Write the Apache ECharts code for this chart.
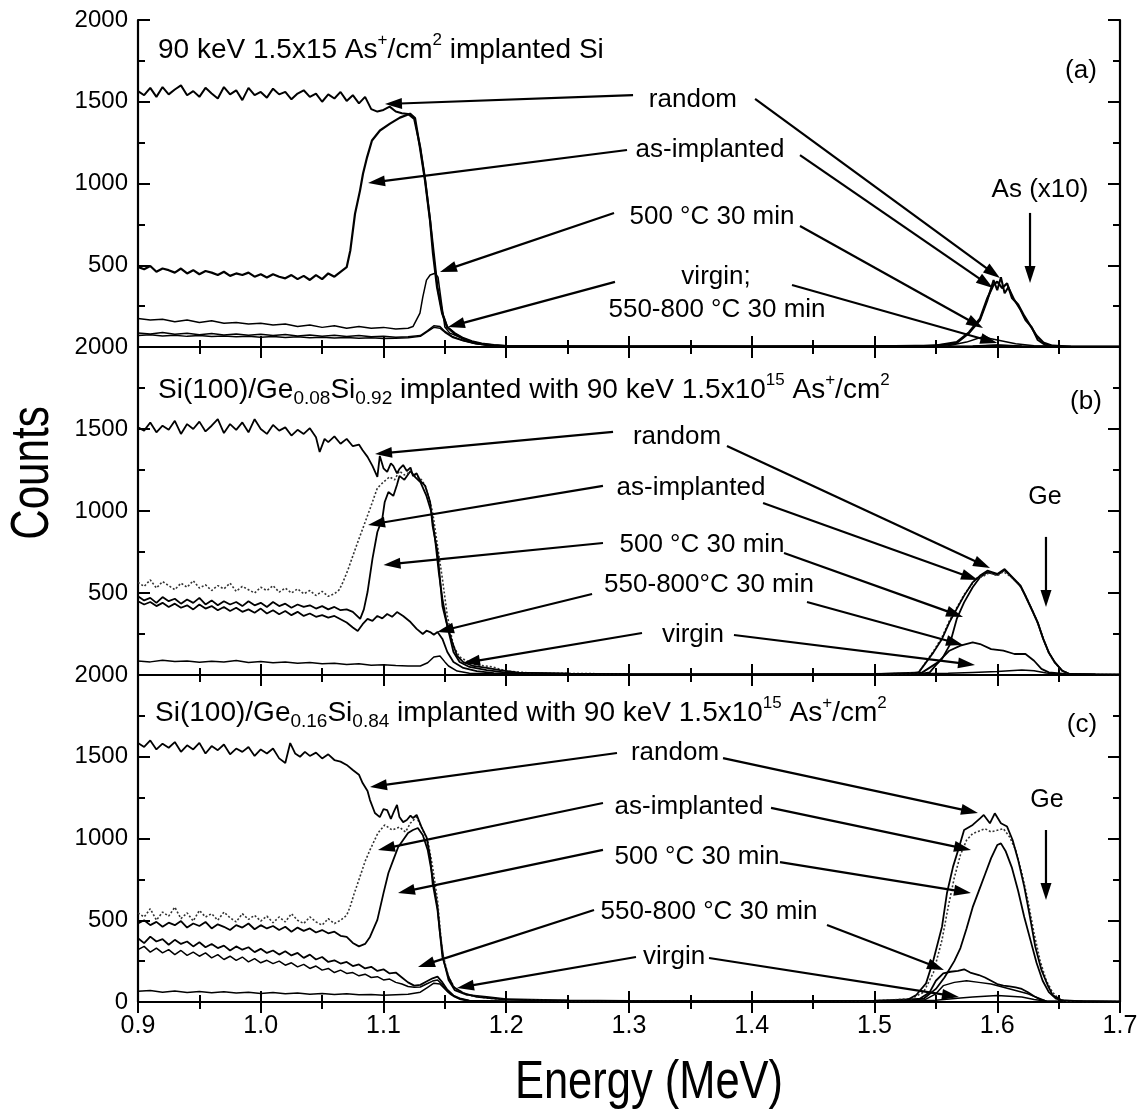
<!DOCTYPE html>
<html>
<head>
<meta charset="utf-8">
<script src="https://cdn.jsdelivr.net/npm/echarts@6/dist/echarts.min.js"></script>
<style>
  html, body { margin: 0; padding: 0; background: #fff; }
  #main { width: 1142px; height: 1118px; }
</style>
</head>
<body>
<div id="main"></div>
<script>
// RBS spectra, three panels (a) Si, (b) Ge0.08Si0.92, (c) Ge0.16Si0.84
// values: [energy MeV, counts]

// panel (a)
const randomA = [[0.900,1565],[0.905,1540],[0.910,1585],[0.915,1530],[0.920,1590],[0.925,1545],[0.930,1575],[0.935,1600],[0.940,1540],[0.945,1565],[0.950,1530],[0.955,1585],[0.960,1550],[0.965,1520],[0.970,1590],[0.975,1545],[0.980,1570],[0.985,1510],[0.990,1585],[0.995,1540],[1.000,1560],[1.005,1525],[1.010,1580],[1.015,1545],[1.020,1560],[1.025,1515],[1.030,1550],[1.035,1570],[1.040,1530],[1.045,1550],[1.050,1500],[1.055,1545],[1.060,1520],[1.065,1560],[1.070,1505],[1.075,1540],[1.080,1490],[1.085,1530],[1.090,1455],[1.095,1440],[1.100,1450],[1.105,1470],[1.110,1440],[1.115,1430],[1.120,1425],[1.125,1395],[1.130,1220],[1.134,1020],[1.138,775],[1.141,573],[1.144,366],[1.148,207],[1.152,122],[1.158,85],[1.165,55],[1.172,35],[1.180,22],[1.190,12],[1.200,6],[1.250,4],[1.300,3],[1.350,4],[1.400,3],[1.450,4],[1.500,5],[1.540,6],[1.560,15],[1.567,24],[1.577,85],[1.586,165],[1.592,287],[1.597,409],[1.600,348],[1.603,427],[1.606,329],[1.609,366],[1.614,287],[1.619,226],[1.623,165],[1.628,122],[1.633,43],[1.639,12],[1.645,5],[1.660,3],[1.700,2]];
const implantA = [[0.900,490],[0.905,475],[0.910,495],[0.915,460],[0.920,480],[0.925,470],[0.930,455],[0.935,480],[0.940,450],[0.945,470],[0.950,445],[0.955,465],[0.960,455],[0.965,440],[0.970,460],[0.975,435],[0.980,450],[0.985,440],[0.990,455],[0.995,430],[1.000,445],[1.005,425],[1.010,445],[1.015,430],[1.020,420],[1.025,440],[1.030,415],[1.035,435],[1.040,410],[1.045,440],[1.050,415],[1.055,450],[1.060,430],[1.065,460],[1.070,488],[1.073,592],[1.0768,815],[1.0809,958],[1.0833,1060],[1.0866,1160],[1.0906,1263],[1.0971,1324],[1.1053,1366],[1.1134,1403],[1.1216,1427],[1.1257,1400],[1.1297,1220],[1.1338,1020],[1.1379,775],[1.1403,573],[1.1436,366],[1.1477,207],[1.1518,122],[1.158,80],[1.165,50],[1.172,30],[1.180,18],[1.190,10],[1.200,5],[1.300,3],[1.400,3],[1.500,4],[1.550,8],[1.567,30],[1.577,90],[1.586,175],[1.592,300],[1.597,380],[1.600,400],[1.604,360],[1.608,390],[1.612,300],[1.617,260],[1.622,190],[1.627,130],[1.632,70],[1.638,25],[1.645,8],[1.660,3],[1.700,2]];
const anneal500A = [[0.900,175],[0.910,165],[0.920,170],[0.930,155],[0.940,165],[0.950,150],[0.960,160],[0.970,145],[0.980,150],[0.990,140],[1.000,145],[1.010,135],[1.020,140],[1.030,125],[1.040,135],[1.050,120],[1.060,130],[1.070,115],[1.080,125],[1.090,115],[1.100,120],[1.110,110],[1.120,115],[1.124,125],[1.1297,207],[1.132,305],[1.135,409],[1.138,440],[1.142,451],[1.1444,427],[1.1477,244],[1.150,122],[1.154,85],[1.162,61],[1.173,30],[1.184,10],[1.200,4],[1.300,3],[1.400,3],[1.500,3],[1.560,8],[1.575,30],[1.585,55],[1.590,65],[1.595,50],[1.605,35],[1.615,20],[1.630,8],[1.650,3],[1.700,2]];
const virginA = [[0.900,85],[0.910,80],[0.920,88],[0.930,78],[0.940,84],[0.950,75],[0.960,82],[0.970,74],[0.980,80],[0.990,72],[1.000,78],[1.010,70],[1.020,76],[1.030,68],[1.040,74],[1.050,66],[1.060,72],[1.070,64],[1.080,70],[1.090,62],[1.100,66],[1.110,60],[1.120,62],[1.130,70],[1.136,100],[1.141,130],[1.146,125],[1.150,95],[1.156,65],[1.165,40],[1.175,22],[1.190,10],[1.200,5],[1.300,3],[1.500,3],[1.580,6],[1.600,12],[1.620,6],[1.650,3],[1.700,2]];
const anneal550A = [[0.900,70],[0.910,75],[0.920,68],[0.930,72],[0.940,65],[0.950,70],[0.960,64],[0.970,68],[0.980,62],[0.990,66],[1.000,60],[1.010,64],[1.020,58],[1.030,62],[1.040,56],[1.050,60],[1.060,55],[1.070,58],[1.080,54],[1.090,56],[1.100,52],[1.110,54],[1.120,56],[1.130,65],[1.136,95],[1.141,120],[1.146,115],[1.150,90],[1.156,60],[1.165,38],[1.175,20],[1.190,8],[1.200,4],[1.300,3],[1.500,3],[1.580,5],[1.600,10],[1.620,5],[1.650,2],[1.700,2]];

// panel (b)
const randomB = [[0.900,1510],[0.905,1490],[0.910,1540],[0.915,1480],[0.920,1520],[0.925,1495],[0.930,1550],[0.935,1470],[0.940,1530],[0.945,1500],[0.950,1545],[0.955,1485],[0.960,1520],[0.965,1560],[0.970,1475],[0.975,1530],[0.980,1495],[0.985,1540],[0.990,1480],[0.995,1560],[1.000,1500],[1.005,1470],[1.010,1525],[1.015,1490],[1.020,1510],[1.025,1460],[1.030,1495],[1.035,1470],[1.040,1505],[1.045,1450],[1.048,1360],[1.052,1440],[1.055,1420],[1.060,1455],[1.065,1410],[1.070,1440],[1.075,1395],[1.080,1405],[1.083,1370],[1.087,1330],[1.091,1275],[1.095,1208],[1.097,1336],[1.100,1260],[1.103,1238],[1.106,1290],[1.108,1275],[1.111,1230],[1.113,1257],[1.116,1280],[1.119,1244],[1.122,1265],[1.124,1214],[1.127,1230],[1.130,1183],[1.134,1153],[1.138,1055],[1.140,909],[1.144,750],[1.146,586],[1.148,421],[1.152,299],[1.156,201],[1.160,116],[1.165,79],[1.173,55],[1.184,43],[1.195,30],[1.210,15],[1.250,8],[1.300,5],[1.350,4],[1.400,4],[1.450,5],[1.500,6],[1.530,10],[1.536,16],[1.542,77],[1.548,138],[1.555,220],[1.561,321],[1.567,403],[1.573,484],[1.580,565],[1.586,606],[1.592,636],[1.600,616],[1.606,646],[1.6125,596],[1.619,545],[1.623,484],[1.628,403],[1.633,321],[1.6375,220],[1.642,138],[1.647,77],[1.653,26],[1.659,6],[1.680,3],[1.700,2]];
const implantB = [[0.900,565],[0.905,540],[0.910,580],[0.915,530],[0.920,570],[0.925,545],[0.930,520],[0.935,560],[0.940,535],[0.945,575],[0.950,530],[0.955,550],[0.960,515],[0.965,545],[0.970,525],[0.975,560],[0.980,510],[0.985,540],[0.990,520],[0.995,500],[1.000,535],[1.005,515],[1.010,545],[1.015,505],[1.020,530],[1.025,500],[1.030,525],[1.035,495],[1.040,515],[1.045,485],[1.050,510],[1.055,480],[1.060,495],[1.064,520],[1.067,567],[1.071,640],[1.075,726],[1.079,810],[1.083,891],[1.089,1013],[1.095,1140],[1.100,1177],[1.105,1208],[1.109,1190],[1.113,1244],[1.117,1220],[1.122,1238],[1.127,1214],[1.131,1190],[1.134,1153],[1.137,1080],[1.140,994],[1.144,787],[1.148,586],[1.152,360],[1.157,177],[1.162,110],[1.168,85],[1.173,67],[1.180,58],[1.189,49],[1.200,24],[1.220,12],[1.300,6],[1.400,5],[1.500,6],[1.530,10],[1.536,16],[1.542,80],[1.548,145],[1.555,230],[1.561,330],[1.567,410],[1.573,490],[1.578,540],[1.583,590],[1.588,600],[1.594,625],[1.600,605],[1.605,630],[1.611,600],[1.617,560],[1.622,500],[1.627,420],[1.632,335],[1.637,235],[1.641,150],[1.646,85],[1.652,30],[1.658,8],[1.680,3],[1.700,2]];
const anneal500B = [[0.900,480],[0.905,455],[0.910,470],[0.915,440],[0.920,475],[0.925,450],[0.930,465],[0.935,435],[0.940,460],[0.945,440],[0.950,470],[0.955,430],[0.960,455],[0.965,425],[0.970,450],[0.975,430],[0.980,445],[0.985,420],[0.990,450],[0.995,425],[1.000,440],[1.005,415],[1.010,445],[1.015,420],[1.020,435],[1.025,410],[1.030,430],[1.035,415],[1.040,425],[1.045,405],[1.050,420],[1.055,400],[1.060,415],[1.065,395],[1.070,400],[1.075,385],[1.081,342],[1.084,400],[1.087,506],[1.091,708],[1.095,872],[1.099,952],[1.101,1055],[1.104,1116],[1.108,1092],[1.111,1160],[1.113,1214],[1.117,1190],[1.122,1244],[1.126,1205],[1.130,1177],[1.135,1092],[1.139,994],[1.142,830],[1.145,628],[1.148,464],[1.152,299],[1.157,140],[1.162,79],[1.170,49],[1.184,30],[1.200,15],[1.250,8],[1.300,5],[1.400,4],[1.500,5],[1.540,10],[1.545,16],[1.550,60],[1.555,98],[1.561,179],[1.567,342],[1.573,443],[1.580,535],[1.586,596],[1.592,626],[1.600,610],[1.606,640],[1.6125,590],[1.619,540],[1.623,480],[1.628,400],[1.633,318],[1.6375,218],[1.642,136],[1.647,75],[1.653,25],[1.659,6],[1.680,3],[1.700,2]];
const anneal550B = [[0.900,450],[0.905,430],[0.910,445],[0.915,420],[0.920,440],[0.925,415],[0.930,435],[0.935,410],[0.940,425],[0.945,400],[0.950,430],[0.955,405],[0.960,420],[0.965,395],[0.970,415],[0.975,390],[0.980,410],[0.985,385],[0.990,400],[0.995,380],[1.000,405],[1.005,375],[1.010,395],[1.015,370],[1.020,390],[1.025,365],[1.030,385],[1.035,360],[1.040,375],[1.045,355],[1.050,365],[1.055,350],[1.060,360],[1.065,340],[1.070,320],[1.075,290],[1.079,268],[1.083,310],[1.087,342],[1.091,330],[1.095,360],[1.099,345],[1.103,372],[1.107,355],[1.111,384],[1.116,360],[1.122,323],[1.127,281],[1.132,250],[1.135,270],[1.138,262],[1.141,245],[1.144,262],[1.148,220],[1.152,140],[1.157,79],[1.165,43],[1.176,24],[1.190,12],[1.200,8],[1.300,4],[1.400,4],[1.500,5],[1.539,16],[1.5516,77],[1.561,148],[1.570,179],[1.580,199],[1.586,189],[1.595,158],[1.605,148],[1.614,128],[1.623,128],[1.630,87],[1.636,37],[1.642,16],[1.660,4],[1.700,2]];
const virginB = [[0.900,85],[0.910,80],[0.920,90],[0.930,82],[0.940,86],[0.950,78],[0.960,84],[0.970,80],[0.980,88],[0.990,76],[1.000,82],[1.010,74],[1.020,80],[1.030,72],[1.040,76],[1.050,68],[1.060,72],[1.070,64],[1.080,68],[1.090,60],[1.100,62],[1.110,58],[1.120,55],[1.130,55],[1.136,75],[1.141,110],[1.146,116],[1.150,80],[1.153,55],[1.160,24],[1.170,10],[1.200,4],[1.300,3],[1.500,3],[1.560,10],[1.580,16],[1.600,22],[1.620,30],[1.630,26],[1.640,12],[1.650,4],[1.700,2]];

// panel (c)
const randomC = [[0.900,1584],[0.905,1560],[0.910,1600],[0.915,1545],[0.920,1580],[0.925,1555],[0.930,1590],[0.935,1530],[0.940,1570],[0.945,1545],[0.950,1585],[0.955,1520],[0.960,1565],[0.965,1540],[0.970,1575],[0.975,1515],[0.980,1550],[0.985,1530],[0.990,1560],[0.995,1505],[1.000,1545],[1.005,1520],[1.010,1550],[1.015,1490],[1.020,1462],[1.024,1584],[1.028,1520],[1.032,1500],[1.036,1530],[1.040,1505],[1.045,1525],[1.050,1490],[1.055,1515],[1.060,1480],[1.065,1470],[1.070,1450],[1.075,1419],[1.080,1390],[1.083,1339],[1.087,1290],[1.089,1235],[1.093,1156],[1.097,1131],[1.100,1180],[1.103,1174],[1.106,1120],[1.108,1156],[1.111,1205],[1.113,1131],[1.116,1100],[1.119,1113],[1.122,1140],[1.124,1125],[1.127,1144],[1.131,1070],[1.135,1009],[1.138,887],[1.140,728],[1.144,563],[1.146,422],[1.148,275],[1.153,153],[1.157,92],[1.165,55],[1.176,31],[1.195,18],[1.220,10],[1.250,8],[1.300,6],[1.350,5],[1.400,5],[1.450,6],[1.500,8],[1.520,10],[1.5266,12],[1.534,43],[1.542,114],[1.548,257],[1.555,461],[1.559,665],[1.564,828],[1.569,950],[1.573,1052],[1.580,1083],[1.586,1123],[1.589,1144],[1.594,1093],[1.598,1154],[1.603,1093],[1.608,1073],[1.6125,991],[1.617,869],[1.622,706],[1.6266,522],[1.631,338],[1.636,196],[1.641,104],[1.645,43],[1.652,12],[1.670,4],[1.700,2]];
const implantC = [[0.900,545],[0.905,520],[0.910,570],[0.915,500],[0.920,550],[0.925,525],[0.930,580],[0.935,510],[0.940,545],[0.945,495],[0.950,560],[0.955,520],[0.960,540],[0.965,500],[0.970,550],[0.975,515],[0.980,490],[0.985,540],[0.990,505],[0.995,530],[1.000,495],[1.005,525],[1.010,485],[1.015,520],[1.020,490],[1.025,540],[1.030,500],[1.035,480],[1.040,520],[1.045,490],[1.050,470],[1.055,510],[1.060,480],[1.065,500],[1.070,530],[1.0727,580],[1.076,660],[1.081,770],[1.085,860],[1.089,930],[1.0955,1034],[1.101,1083],[1.107,1052],[1.113,1070],[1.118,1040],[1.122,1095],[1.127,1131],[1.132,1052],[1.136,991],[1.140,826],[1.144,624],[1.146,459],[1.148,300],[1.153,153],[1.158,86],[1.168,43],[1.184,24],[1.205,12],[1.250,8],[1.300,6],[1.400,5],[1.500,7],[1.530,20],[1.540,60],[1.548,180],[1.555,380],[1.560,580],[1.565,760],[1.570,900],[1.575,990],[1.580,1030],[1.585,1045],[1.590,1060],[1.595,1040],[1.600,1050],[1.605,1060],[1.610,1010],[1.615,930],[1.620,790],[1.625,620],[1.630,420],[1.635,250],[1.640,130],[1.645,60],[1.650,20],[1.655,5],[1.700,2]];
const anneal500C = [[0.900,480],[0.905,500],[0.910,470],[0.915,490],[0.920,460],[0.925,485],[0.930,470],[0.935,495],[0.940,455],[0.945,480],[0.950,465],[0.955,490],[0.960,450],[0.965,475],[0.970,460],[0.975,440],[0.980,470],[0.985,455],[0.990,480],[0.995,445],[1.000,470],[1.005,450],[1.010,465],[1.015,440],[1.020,460],[1.025,430],[1.030,455],[1.035,435],[1.040,450],[1.045,425],[1.050,440],[1.055,420],[1.060,430],[1.065,405],[1.070,398],[1.075,361],[1.080,340],[1.085,355],[1.089,398],[1.095,502],[1.100,666],[1.104,789],[1.108,869],[1.112,948],[1.116,991],[1.120,1034],[1.124,1052],[1.128,1064],[1.132,1021],[1.136,930],[1.140,765],[1.144,581],[1.146,422],[1.149,257],[1.153,135],[1.158,73],[1.168,43],[1.184,31],[1.200,18],[1.250,10],[1.300,6],[1.400,5],[1.500,6],[1.540,20],[1.550,80],[1.557,150],[1.565,250],[1.570,330],[1.575,450],[1.580,580],[1.585,680],[1.590,780],[1.595,880],[1.600,960],[1.603,970],[1.607,920],[1.612,820],[1.617,680],[1.622,520],[1.627,380],[1.632,240],[1.637,130],[1.642,60],[1.648,20],[1.655,5],[1.700,2]];
const anneal550C = [[0.900,390],[0.905,360],[0.910,400],[0.915,370],[0.920,385],[0.925,350],[0.930,380],[0.935,355],[0.940,370],[0.945,340],[0.950,365],[0.955,335],[0.960,355],[0.965,330],[0.970,345],[0.975,315],[0.980,340],[0.985,320],[0.990,335],[0.995,305],[1.000,325],[1.005,300],[1.010,315],[1.015,290],[1.020,310],[1.025,285],[1.030,300],[1.035,270],[1.040,290],[1.045,260],[1.050,275],[1.055,245],[1.060,255],[1.065,235],[1.070,245],[1.075,220],[1.080,230],[1.085,205],[1.090,215],[1.095,190],[1.100,200],[1.105,175],[1.110,180],[1.115,150],[1.120,120],[1.125,100],[1.130,105],[1.135,125],[1.140,145],[1.144,155],[1.148,120],[1.152,75],[1.157,40],[1.163,20],[1.170,8],[1.200,4],[1.300,4],[1.400,4],[1.500,5],[1.535,10],[1.545,60],[1.550,130],[1.556,175],[1.562,185],[1.568,190],[1.573,200],[1.578,180],[1.585,165],[1.590,150],[1.595,130],[1.600,110],[1.605,100],[1.610,95],[1.615,90],[1.620,80],[1.625,60],[1.630,35],[1.635,15],[1.640,5],[1.700,2]];
const anneal800C = [[0.900,320],[0.905,340],[0.910,305],[0.915,330],[0.920,300],[0.925,320],[0.930,290],[0.935,315],[0.940,285],[0.945,305],[0.950,280],[0.955,300],[0.960,270],[0.965,290],[0.970,260],[0.975,280],[0.980,255],[0.985,275],[0.990,245],[0.995,265],[1.000,240],[1.005,255],[1.010,235],[1.015,250],[1.020,225],[1.025,240],[1.030,215],[1.035,230],[1.040,205],[1.045,220],[1.050,195],[1.055,205],[1.060,180],[1.065,195],[1.070,175],[1.075,180],[1.080,160],[1.085,170],[1.090,150],[1.095,155],[1.100,135],[1.105,140],[1.110,120],[1.115,110],[1.120,95],[1.125,90],[1.130,92],[1.135,110],[1.140,128],[1.144,135],[1.148,105],[1.152,65],[1.157,35],[1.163,15],[1.170,6],[1.200,3],[1.300,3],[1.400,3],[1.500,4],[1.540,10],[1.550,50],[1.556,100],[1.565,120],[1.575,130],[1.585,120],[1.595,110],[1.605,90],[1.615,70],[1.625,50],[1.635,20],[1.640,5],[1.700,2]];
const virginC = [[0.900,65],[0.910,70],[0.920,60],[0.930,68],[0.940,58],[0.950,64],[0.960,56],[0.970,62],[0.980,55],[0.990,60],[1.000,52],[1.010,58],[1.020,50],[1.030,55],[1.040,48],[1.050,52],[1.060,46],[1.070,50],[1.080,44],[1.090,46],[1.100,42],[1.110,45],[1.120,48],[1.130,60],[1.136,90],[1.141,115],[1.146,110],[1.150,80],[1.155,45],[1.162,20],[1.170,8],[1.200,4],[1.300,3],[1.500,3],[1.550,10],[1.570,25],[1.580,30],[1.600,40],[1.610,35],[1.620,30],[1.630,15],[1.640,5],[1.700,2]];

const xTicks = { min: 0.9, max: 1.7, step: 0.1 };
const yTicks = { min: 0, max: 2000, step: 500 };

const FONT = "'Liberation Sans', Arial, Helvetica, sans-serif";
const chart = echarts.init(document.getElementById('main'));

const grids = [
    { left: 138, right: 22, top: 20, height: 327 },
    { left: 138, right: 22, top: 347, height: 328 },
    { left: 138, right: 22, top: 675, height: 327 }
];

function xAxisFor(g, pos) {
    return {
        type: 'value', gridIndex: g, position: pos,
        min: xTicks.min, max: xTicks.max, interval: xTicks.step,
        axisLine: { lineStyle: { color: '#000', width: 2.2 } },
        axisTick: { inside: true, length: 11, lineStyle: { color: '#000', width: 2 } },
        minorTick: { show: true, splitNumber: 2, length: 7, lineStyle: { color: '#000', width: 2 } },
        splitLine: { show: false },
        axisLabel: {
            show: g === 2 && pos === 'bottom',
            color: '#000', fontSize: 25, fontFamily: FONT, margin: 12,
            formatter: v => v.toFixed(1)
        }
    };
}
function yAxisFor(g, pos) {
    return {
        type: 'value', gridIndex: g, position: pos,
        min: yTicks.min, max: yTicks.max, interval: yTicks.step,
        axisLine: { show: true, lineStyle: { color: '#000', width: 2.2 } },
        axisTick: { show: true, inside: true, length: 12, lineStyle: { color: '#000', width: 2 } },
        minorTick: { show: true, splitNumber: 2, length: 7, lineStyle: { color: '#000', width: 2 } },
        splitLine: { show: false },
        axisLabel: {
            show: pos === 'left',
            showMinLabel: g === 2,
            color: '#000', fontSize: 24, fontFamily: FONT, margin: 10,
            formatter: v => String(v)
        }
    };
}

const xAxes = [], yAxes = [];
[0, 1, 2].forEach(g => {
    xAxes.push(xAxisFor(g, 'bottom'), xAxisFor(g, 'top'));
    yAxes.push(yAxisFor(g, 'left'), yAxisFor(g, 'right'));
});

const dotted = { color: '#333', width: 1.6, type: [2, 2] };
function line(g, data, style) {
    return {
        type: 'line', xAxisIndex: 2 * g, yAxisIndex: 2 * g, data: data,
        showSymbol: false, symbol: 'none', silent: true,
        lineStyle: Object.assign({ color: '#000', width: 1.6 }, style || {})
    };
}

const series = [
    line(0, virginA, { width: 1.5 }),
    line(0, anneal550A, { width: 1.5 }),
    line(0, anneal500A, { width: 1.5 }),
    line(0, implantA, { width: 2.2 }),
    line(0, randomA, { width: 2 }),

    line(1, virginB, { width: 1.5 }),
    line(1, anneal550B, { width: 1.8 }),
    line(1, anneal500B, { width: 1.8 }),
    line(1, implantB, dotted),
    line(1, randomB, { width: 1.8 }),

    line(2, virginC, { width: 1.5 }),
    line(2, anneal800C, { width: 1.5 }),
    line(2, anneal550C, { width: 1.8 }),
    line(2, anneal500C, { width: 1.8 }),
    line(2, implantC, dotted),
    line(2, randomC, { width: 1.8 })
];

chart.setOption({
    animation: false,
    backgroundColor: '#fff',
    grid: grids,
    xAxis: xAxes,
    yAxis: yAxes,
    series: series
});

// annotations, in data coordinates of each panel
const titles = [
    { g: 0, at: [0.9163, 1816], text: '90 keV 1.5x15 As{sup|+}/cm{sup|2} implanted Si' },
    { g: 1, at: [0.9163, 1738], text: 'Si(100)/Ge{sub|0.08}Si{sub|0.92} implanted with 90 keV 1.5x10{sup|15} As{sup|+}/cm{sup|2}' },
    { g: 2, at: [0.9139, 1767], text: 'Si(100)/Ge{sub|0.16}Si{sub|0.84} implanted with 90 keV 1.5x10{sup|15} As{sup|+}/cm{sup|2}' }
];
const labels = [
    { g: 0, at: [1.3521, 1511], text: 'random' },
    { g: 0, at: [1.3660, 1205], text: 'as-implanted' },
    { g: 0, at: [1.3676, 795], text: '500 °C 30 min' },
    { g: 0, at: [1.3709, 428], text: 'virgin;' },
    { g: 0, at: [1.3717, 226], text: '550-800 °C 30 min' },
    { g: 0, at: [1.6348, 960], text: 'As (x10)' },
    { g: 0, at: [1.6682, 1688], text: '(a)' },

    { g: 1, at: [1.3391, 1451], text: 'random' },
    { g: 1, at: [1.3505, 1140], text: 'as-implanted' },
    { g: 1, at: [1.3595, 793], text: '500 °C 30 min' },
    { g: 1, at: [1.3652, 549], text: '550-800°C 30 min' },
    { g: 1, at: [1.3521, 244], text: 'virgin' },
    { g: 1, at: [1.6389, 1085], text: 'Ge', size: 25 },
    { g: 1, at: [1.6723, 1665], text: '(b)' },

    { g: 2, at: [1.3375, 1523], text: 'random' },
    { g: 2, at: [1.3489, 1193], text: 'as-implanted' },
    { g: 2, at: [1.3554, 887], text: '500 °C 30 min' },
    { g: 2, at: [1.3652, 550], text: '550-800 °C 30 min' },
    { g: 2, at: [1.3367, 275], text: 'virgin' },
    { g: 2, at: [1.6405, 1235], text: 'Ge', size: 25 },
    { g: 2, at: [1.6690, 1694], text: '(c)' }
];
const arrows = [
    { g: 0, from: [1.3033, 1541], to: [1.1012, 1486] },
    { g: 0, from: [1.4027, 1517], to: [1.6022, 422] },
    { g: 0, from: [1.2984, 1205], to: [1.0874, 1003] },
    { g: 0, from: [1.4393, 1174], to: [1.5965, 361] },
    { g: 0, from: [1.2878, 820], to: [1.1460, 459] },
    { g: 0, from: [1.4393, 740], to: [1.5884, 116] },
    { g: 0, from: [1.2886, 398], to: [1.1525, 122] },
    { g: 0, from: [1.4328, 379], to: [1.6000, 24] },
    { g: 0, from: [1.6267, 820], to: [1.6267, 391] },

    { g: 1, from: [1.2870, 1482], to: [1.0931, 1348] },
    { g: 1, from: [1.3798, 1396], to: [1.5941, 652] },
    { g: 1, from: [1.2788, 1153], to: [1.0874, 915] },
    { g: 1, from: [1.4092, 1049], to: [1.5843, 579] },
    { g: 1, from: [1.2788, 805], to: [1.1000, 671] },
    { g: 1, from: [1.4263, 744], to: [1.5721, 354] },
    { g: 1, from: [1.2699, 494], to: [1.1436, 262] },
    { g: 1, from: [1.4450, 445], to: [1.5721, 183] },
    { g: 1, from: [1.3106, 256], to: [1.1648, 73] },
    { g: 1, from: [1.3855, 244], to: [1.5819, 61] },
    { g: 1, from: [1.6397, 842], to: [1.6397, 415] },

    { g: 2, from: [1.2902, 1523], to: [1.0890, 1315] },
    { g: 2, from: [1.3766, 1492], to: [1.5843, 1156] },
    { g: 2, from: [1.2788, 1217], to: [1.0955, 930] },
    { g: 2, from: [1.4157, 1187], to: [1.5786, 930] },
    { g: 2, from: [1.2788, 930], to: [1.1118, 667] },
    { g: 2, from: [1.4230, 856], to: [1.5786, 667] },
    { g: 2, from: [1.2715, 563], to: [1.1281, 214] },
    { g: 2, from: [1.4613, 471], to: [1.5566, 196] },
    { g: 2, from: [1.3057, 275], to: [1.1599, 86] },
    { g: 2, from: [1.3652, 269], to: [1.5688, 31] },
    { g: 2, from: [1.6397, 1052], to: [1.6397, 624] }
];

function toPx(g, p) {
    return chart.convertToPixel({ xAxisIndex: 2 * g, yAxisIndex: 2 * g }, p);
}

const graphic = [];
titles.forEach(t => {
    const p = toPx(t.g, t.at);
    graphic.push({
        type: 'text', x: p[0], y: p[1], z: 100,
        style: {
            text: t.text, fill: '#000', font: '28px ' + FONT,
            textAlign: 'left', textVerticalAlign: 'middle', lineHeight: 36,
            rich: {
                sup: { fontSize: 17, fontFamily: FONT, verticalAlign: 'top', lineHeight: 36 },
                sub: { fontSize: 19, fontFamily: FONT, verticalAlign: 'bottom', lineHeight: 36 }
            }
        }
    });
});
labels.forEach(t => {
    const p = toPx(t.g, t.at);
    graphic.push({
        type: 'text', x: p[0], y: p[1], z: 100,
        style: {
            text: t.text, fill: '#000', font: (t.size || 26) + 'px ' + FONT,
            textAlign: 'center', textVerticalAlign: 'middle'
        }
    });
});
arrows.forEach(a => {
    const p1 = toPx(a.g, a.from), p2 = toPx(a.g, a.to);
    const dx = p2[0] - p1[0], dy = p2[1] - p1[1];
    const len = Math.sqrt(dx * dx + dy * dy);
    const ux = dx / len, uy = dy / len;
    const hl = 17, hw = 5.5;
    const bx = p2[0] - ux * hl, by = p2[1] - uy * hl;
    graphic.push({
        type: 'line', z: 100,
        shape: { x1: p1[0], y1: p1[1], x2: bx + ux * 2, y2: by + uy * 2 },
        style: { stroke: '#000', lineWidth: 2.2 }
    });
    graphic.push({
        type: 'polygon', z: 100,
        shape: { points: [[p2[0], p2[1]], [bx - uy * hw, by + ux * hw], [bx + uy * hw, by - ux * hw]] },
        style: { fill: '#000' }
    });
});

// axis titles
graphic.push({
    type: 'text', x: 33, y: 473, rotation: Math.PI / 2, scaleX: 0.78, z: 100,
    style: { text: 'Counts', fill: '#000', font: '54px ' + FONT, textAlign: 'center', textVerticalAlign: 'middle' }
});
graphic.push({
    type: 'text', x: 649, y: 1083, scaleX: 0.82, z: 100,
    style: { text: 'Energy (MeV)', fill: '#000', font: '53px ' + FONT, textAlign: 'center', textVerticalAlign: 'middle' }
});

chart.setOption({ graphic: graphic });

window.addEventListener('resize', function() {
    chart.resize();
});
</script>
</body>
</html>
